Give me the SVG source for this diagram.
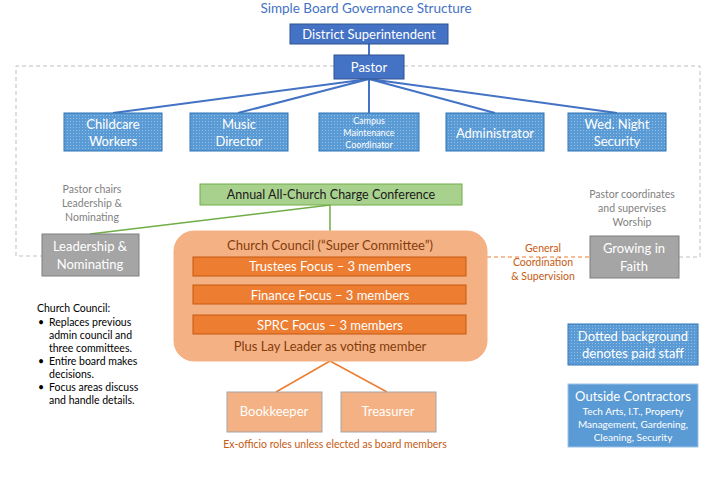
<svg xmlns="http://www.w3.org/2000/svg" width="720" height="480" viewBox="0 0 720 480">
<defs>
<pattern id="dots" width="3" height="3" patternUnits="userSpaceOnUse">
<rect width="3" height="3" fill="#5b9bd5"/>
<rect x="1" y="1" width="1" height="1" fill="#ffffff" fill-opacity="0.35"/>
</pattern>
<style>
text{font-family:Lato,"Open Sans",sans-serif;text-anchor:middle}
.title{fill:#4472c4;font-size:13.5px}
.top{fill:#4472c4;stroke:#2f528f;stroke-width:1}
.staff{fill:url(#dots);stroke:#2e75b6;stroke-width:1}
.wt{fill:#ffffff;font-size:13px}
.gray{fill:#a5a5a5;stroke:#7f7f7f;stroke-width:1}
.note{fill:#7f7f7f;font-size:10.5px}
.brown{fill:#843c0c;font-size:13px}
.bar{fill:#ed7d31;stroke:#c55a11;stroke-width:1}
.peach{fill:#f4b183;stroke:#a5a5a5;stroke-width:1}
.or{fill:#c55a11;font-size:10.5px}
.blk{fill:#000000;font-size:10.5px;text-anchor:start}
.bl{stroke:#4472c4;stroke-width:2;fill:none}
.gl{stroke:#70ad47;stroke-width:1.5;fill:none}
.ol{stroke:#ed7d31;stroke-width:1.5;fill:none}
.dash{stroke:#bfbfbf;stroke-width:1;stroke-dasharray:4 3;fill:none}
.odash{stroke:#ed7d31;stroke-width:1;stroke-dasharray:4 3;fill:none}
</style>
</defs>
<rect width="720" height="480" fill="#ffffff"/>
<text class="title" x="366" y="13">Simple Board Governance Structure</text>

<g id="connectors">
<path class="dash" d="M334 66 H16 V256 H42"/>
<path class="dash" d="M404 66 H700 V257 H679"/>
<path class="odash" d="M487 257 H590"/>
<path class="bl" d="M369 44 V55"/>
<path class="bl" d="M369 79 L113 113 M369 79 L238 113 M369 79 V113 M369 79 L495 113 M369 79 L617 113"/>
<path class="gl" d="M330 205 L90 234 M330 205 V231"/>
<path class="ol" d="M330 361 L276 392 M330 361 L387 392"/>
</g>

<g id="district"><rect class="top" x="290" y="24" width="158" height="20"/><text class="wt" x="369" y="39">District Superintendent</text></g>
<g id="pastor"><rect class="top" x="334" y="55" width="70" height="24"/><text class="wt" x="369" y="72">Pastor</text></g>

<g id="childcare"><rect class="staff" x="64" y="113" width="98" height="38"/><text class="wt" x="113" y="129">Childcare</text><text class="wt" x="113" y="146">Workers</text></g>
<g id="music"><rect class="staff" x="190" y="113" width="98" height="38"/><text class="wt" x="239" y="129">Music</text><text class="wt" x="239" y="146">Director</text></g>
<g id="campus"><rect class="staff" x="319" y="113" width="100" height="38"/><text class="wt" x="369" y="124" style="font-size:9px">Campus</text><text class="wt" x="369" y="136" style="font-size:9px">Maintenance</text><text class="wt" x="369" y="148" style="font-size:9px">Coordinator</text></g>
<g id="administrator"><rect class="staff" x="446" y="113" width="98" height="38"/><text class="wt" x="495" y="138">Administrator</text></g>
<g id="wednight"><rect class="staff" x="568" y="113" width="98" height="38"/><text class="wt" x="617" y="129">Wed. Night</text><text class="wt" x="617" y="146">Security</text></g>

<g id="note-left"><text class="note" x="92" y="193">Pastor chairs</text><text class="note" x="92" y="207">Leadership &amp;</text><text class="note" x="92" y="221">Nominating</text></g>
<g id="note-right"><text class="note" x="632" y="198">Pastor coordinates</text><text class="note" x="632" y="212">and supervises</text><text class="note" x="632" y="226">Worship</text></g>

<g id="annual"><rect x="200" y="184" width="262" height="21" fill="#a9d18e" stroke="#70ad47" stroke-width="1"/><text x="331" y="199" style="fill:#1a1a1a;font-size:12.5px">Annual All-Church Charge Conference</text></g>

<g id="leadership"><rect class="gray" x="42" y="234" width="97" height="42"/><text class="wt" x="90" y="251">Leadership &amp;</text><text class="wt" x="90" y="269">Nominating</text></g>
<g id="growing"><rect class="gray" x="590" y="236" width="89" height="42"/><text class="wt" x="634" y="253">Growing in</text><text class="wt" x="634" y="271">Faith</text></g>

<g id="general"><text class="or" x="543" y="252">General</text><text class="or" x="543" y="266">Coordination</text><text class="or" x="543" y="280">&amp; Supervision</text></g>

<g id="council">
<rect x="174" y="231" width="313" height="130" rx="20" fill="#f4b183" stroke="#f4b183"/>
<text class="brown" x="330" y="250">Church Council (“Super Committee”)</text>
<rect class="bar" x="193" y="257" width="273" height="19"/><text class="wt" x="330" y="271">Trustees Focus – 3 members</text>
<rect class="bar" x="193" y="285" width="273" height="19"/><text class="wt" x="330" y="300">Finance Focus – 3 members</text>
<rect class="bar" x="193" y="315" width="273" height="19"/><text class="wt" x="330" y="330">SPRC Focus – 3 members</text>
<text class="brown" x="330" y="351">Plus Lay Leader as voting member</text>
</g>

<g id="bookkeeper"><rect class="peach" x="227" y="392" width="95" height="40"/><text class="wt" x="274" y="416">Bookkeeper</text></g>
<g id="treasurer"><rect class="peach" x="341" y="392" width="95" height="40"/><text class="wt" x="388" y="416">Treasurer</text></g>
<text class="or" x="335" y="448">Ex-officio roles unless elected as board members</text>

<g id="council-notes">
<text class="blk" x="37" y="312">Church Council:</text>
<text class="blk" x="38" y="326">•</text><text class="blk" x="49" y="326">Replaces previous</text>
<text class="blk" x="49" y="339">admin council and</text>
<text class="blk" x="49" y="352">three committees.</text>
<text class="blk" x="38" y="365">•</text><text class="blk" x="49" y="365">Entire board makes</text>
<text class="blk" x="49" y="378">decisions.</text>
<text class="blk" x="38" y="391">•</text><text class="blk" x="49" y="391">Focus areas discuss</text>
<text class="blk" x="49" y="404">and handle details.</text>
</g>

<g id="legend"><rect class="staff" x="568" y="324" width="130" height="41"/><text class="wt" x="633" y="341">Dotted background</text><text class="wt" x="633" y="358">denotes paid staff</text></g>
<g id="contractors"><rect x="568" y="384" width="130" height="63" fill="#5b9bd5" stroke="#9dc3e6" stroke-width="1"/><text class="wt" x="633" y="401">Outside Contractors</text><text class="wt" x="633" y="415" style="font-size:10px">Tech Arts, I.T., Property</text><text class="wt" x="633" y="428" style="font-size:10px">Management, Gardening,</text><text class="wt" x="633" y="441" style="font-size:10px">Cleaning, Security</text></g>
</svg>
